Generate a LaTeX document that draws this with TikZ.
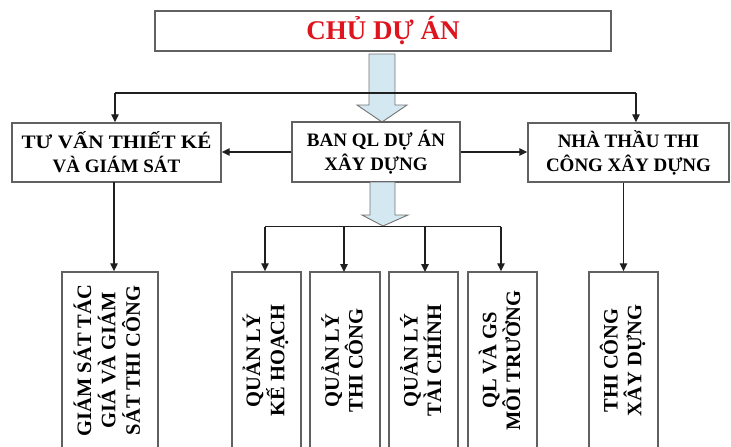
\documentclass[tikz,border=0pt]{standalone}
\usepackage{fontspec}
\setmainfont{Liberation Serif}
\usetikzlibrary{arrows.meta}
\definecolor{boxline}{gray}{0.38}
\definecolor{conn}{gray}{0.12}
\definecolor{titlered}{RGB}{222,20,30}
\definecolor{blockfill}{RGB}{212,232,242}
\definecolor{blockline}{gray}{0.45}
\tikzset{
  box/.style={draw=boxline, line width=1.4pt, fill=white, inner sep=0pt, align=center, font=\bfseries\fontsize{19}{24}\selectfont},
  vbox/.style={draw=boxline, line width=1.4pt, fill=white, inner sep=0pt, font=\bfseries\fontsize{20.5}{20}\selectfont},
  conline/.style={draw=conn, line width=1.3pt},
  arr/.style={conline, -{Triangle[length=8pt,width=7.5pt]}},
  blockarrow/.style={draw=blockline, line width=0.9pt, fill=blockfill}
}
\newcommand{\vtext}[1]{\rotatebox{90}{\begin{tabular}{@{}c@{}}#1\end{tabular}}}
\begin{document}
\begin{tikzpicture}[x=1pt,y=-1pt]
\useasboundingbox (0,0) rectangle (731,447);
\clip (0,0) rectangle (731,447);
% top box
\node[box, minimum width=456, minimum height=40, font=\bfseries\fontsize{27}{29}\selectfont, text=titlered] (top) at (383,31) {CHỦ DỰ ÁN};
% block arrow 1
\draw[blockarrow] (369,54) -- (395,54) -- (395,105) -- (407,105) -- (382,122) -- (357,105) -- (369,105) -- cycle;
% second row
\node[box, minimum width=209, minimum height=59] (tv) at (116.5,152.5) {\scalebox{1.11}[1]{TƯ VẤN THIẾT KÉ}\\VÀ GIÁM SÁT};
\node[box, minimum width=168, minimum height=60] (ban) at (376,152) {BAN QL DỰ ÁN\\XÂY DỰNG};
\node[box, minimum width=201, minimum height=59] (nt) at (628.5,152.5) {NHÀ THẦU THI\\CÔNG XÂY DỰNG};
% block arrow 2
\draw[blockarrow] (370,182) -- (395,182) -- (395,215) -- (408,215) -- (383,226) -- (362,215) -- (370,215) -- cycle;
% bottom row
\node[vbox, minimum width=96, minimum height=177, font=\bfseries\fontsize{20.5}{22}\selectfont] (gs) at (110,360.5) {\vtext{GIÁM SÁT TÁC\\GIÁ VÀ GIÁM\\SÁT THI CÔNG}};
\node[vbox, minimum width=69, minimum height=177] (kh) at (266.5,360.5) {\vtext{QUẢN LÝ\\KẾ HOẠCH}};
\node[vbox, minimum width=70, minimum height=177] (tc) at (345,360.5) {\vtext{QUẢN LÝ\\THI CÔNG}};
\node[vbox, minimum width=69, minimum height=177] (tch) at (423.5,360.5) {\vtext{QUẢN LÝ\\TÀI CHÍNH}};
\node[vbox, minimum width=69, minimum height=177] (mt) at (502.5,360.5) {\vtext{QL VÀ GS\\MÔI TRƯỜNG}};
\node[vbox, minimum width=69, minimum height=177] (xd) at (623.5,360.5) {\vtext{THI CÔNG\\XÂY DỰNG}};
% connectors level 1
\coordinate (hl) at (115,93);
\coordinate (hr) at (636,93);
\draw[conline] (hl) -- (hr);
\draw[arr] (hl) -- (hl |- tv.north);
\draw[arr] (hr) -- (hr |- nt.north);
\draw[arr] (ban.west) -- (tv.east |- ban.west);
\draw[arr] (ban.east) -- (nt.west |- ban.east);
% connectors to bottom
\coordinate (tvs) at (114,182);
\draw[arr] (tvs) -- (tvs |- gs.north);
\draw[arr] (xd.north |- nt.south) -- (xd.north);
\coordinate (bl) at (265,226.5);
\coordinate (br) at (501,226.5);
\draw[conline] (bl) -- (br);
\draw[arr] (bl) -- (bl |- kh.north);
\draw[arr] (344,226.5) -- (344,272);
\draw[arr] (425,226.5) -- (425,272);
\draw[arr] (br) -- (br |- mt.north);
\end{tikzpicture}
\end{document}
